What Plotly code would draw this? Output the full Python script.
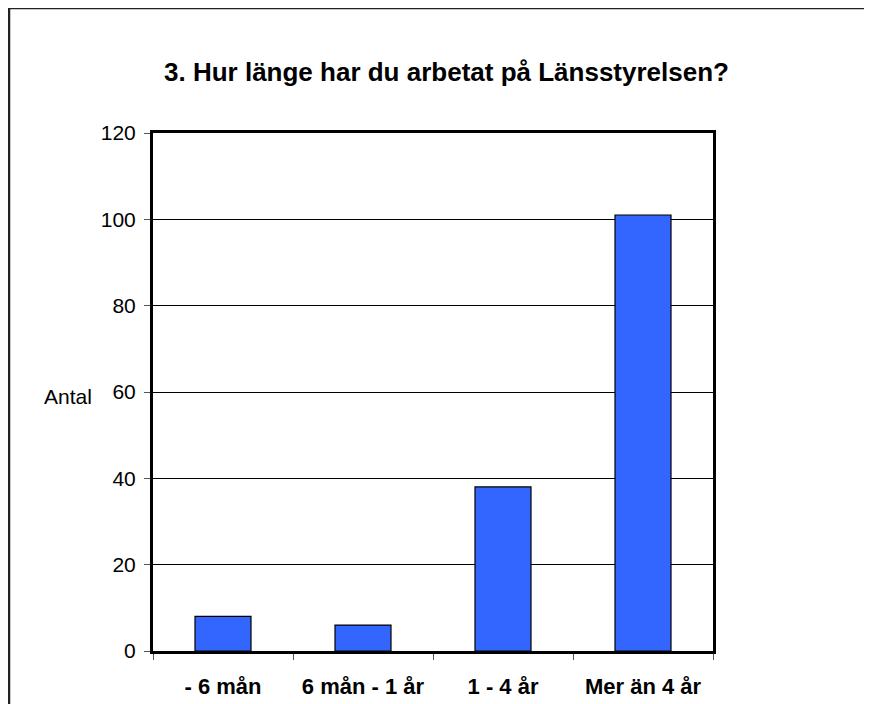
import plotly.graph_objects as go

categories = ["- 6 mån", "6 mån - 1 år", "1 - 4 år", "Mer än 4 år"]
values = [8, 6, 38, 101]
y_ticks = [0, 20, 40, 60, 80, 100, 120]
title_text = "3. Hur länge har du arbetat på Länsstyrelsen?"
y_label = "Antal"

# page has an 8px body margin; figure is placed at (8, 8)
OFF = 8
W, H = 872 - OFF, 704 - OFF
L, R, T, B = 153 - OFF, 159, 133 - OFF, 53
pw, ph = W - L - R, H - T - B

def px_x(x):
    return (x - OFF - L) / pw

def px_y(y):
    return (H - B - (y - OFF)) / ph

FONT = "Liberation Sans, Arial, sans-serif"

fig = go.Figure()
fig.add_trace(go.Bar(
    x=categories, y=values,
    marker=dict(color="#3366FF", line=dict(color="#000000", width=1.2)),
    width=0.4,
))

fig.update_layout(
    width=W, height=H,
    margin=dict(l=L, r=R, t=T, b=B),
    paper_bgcolor="white", plot_bgcolor="white",
    font=dict(family=FONT, color="black", size=21),
    showlegend=False,
    xaxis=dict(
        type="category", automargin=False,
        showline=True, linecolor="black", linewidth=3, mirror=True,
        ticks="outside", tickson="boundaries", ticklen=6, tickcolor="#555555", tickwidth=1,
        tickfont=dict(size=22, family=FONT),
        showgrid=False,
        ticklabelstandoff=14,
        tickvals=categories,
        ticktext=["<b>" + c + "</b>" for c in categories],
    ),
    yaxis=dict(
        range=[0, 120], tickvals=y_ticks, automargin=False,
        showline=True, linecolor="black", linewidth=3, mirror=True,
        ticks="outside", ticklen=6, tickcolor="#555555", tickwidth=1,
        showgrid=True, gridcolor="black", gridwidth=1,
        zeroline=False,
        tickfont=dict(size=21),
        ticklabelstandoff=4,
    ),
    annotations=[
        dict(text="<b>" + title_text + "</b>", xref="paper", yref="paper",
             x=px_x(446), y=px_y(72), xanchor="center", yanchor="middle",
             showarrow=False, font=dict(size=26)),
        dict(text=y_label, xref="paper", yref="paper",
             x=px_x(68), y=px_y(396), xanchor="center", yanchor="middle",
             showarrow=False, font=dict(size=21)),
    ],
    shapes=[
        dict(type="rect", xref="paper", yref="paper",
             x0=px_x(9), y0=-0.5, x1=1.5, y1=px_y(8),
             line=dict(color="#222222", width=2.5), fillcolor="rgba(0,0,0,0)", layer="below"),
    ],
)

fig.write_html("out.html")
